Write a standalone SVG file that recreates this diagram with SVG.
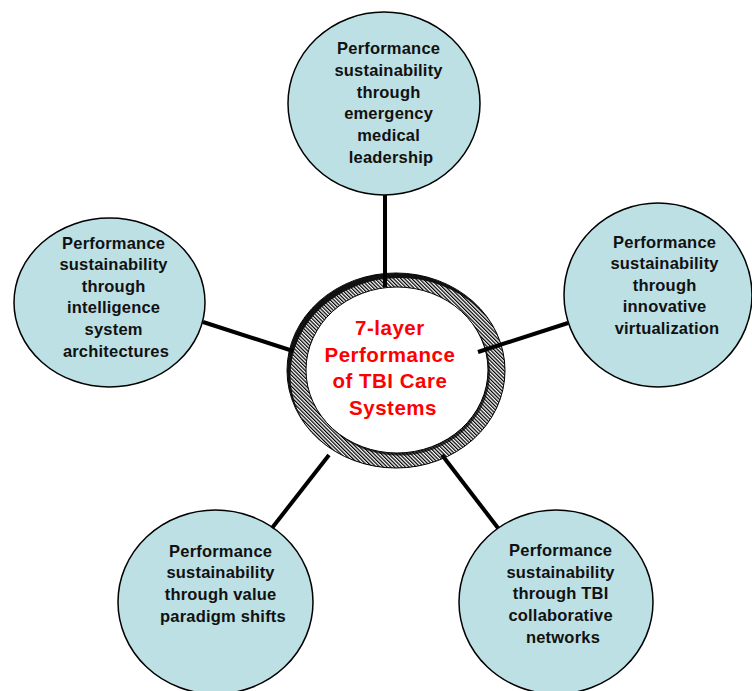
<svg xmlns="http://www.w3.org/2000/svg" width="752" height="691" viewBox="0 0 752 691">
  <defs>
    <!-- fine diagonal hatching for the hub ring -->
    <pattern id="hatch" patternUnits="userSpaceOnUse" width="2.6" height="2.6" patternTransform="rotate(-45)">
      <rect width="2.6" height="2.6" fill="#ffffff"/>
      <rect width="1.25" height="2.6" fill="#000000"/>
    </pattern>
    <clipPath id="ringOuter">
      <ellipse cx="396" cy="370.5" rx="109" ry="97.5"/>
    </clipPath>
    <style>
      .node { fill: #bce0e4; stroke: #000; stroke-width: 1.5; }
      .label { font-family: "Liberation Sans", Arial, sans-serif; font-weight: bold; font-size: 16.5px; letter-spacing: 0.2px; fill: #111; text-anchor: middle; }
      .hub { font-family: "Liberation Sans", Arial, sans-serif; font-weight: bold; font-size: 20.5px; letter-spacing: 0.5px; fill: #ff0000; text-anchor: middle; }
      .link { stroke: #000; stroke-width: 4; fill: none; }
    </style>
  </defs>

  <rect width="752" height="691" fill="#ffffff"/>

  <!-- outer nodes -->
  <g id="node-emergency">
    <ellipse class="node" cx="384" cy="103.5" rx="96" ry="91.5"/>
    <text class="label" x="391">
      <tspan x="391" y="54">Performance</tspan>
      <tspan x="391" y="75.8">sustainability</tspan>
      <tspan x="391" y="97.6">through</tspan>
      <tspan x="391" y="119.4">emergency</tspan>
      <tspan x="391" y="141.2">medical</tspan>
      <tspan x="391" y="163">leadership</tspan>
    </text>
  </g>

  <g id="node-intelligence">
    <ellipse class="node" cx="109.5" cy="302.5" rx="95.5" ry="84.5"/>
    <text class="label" x="116">
      <tspan x="116" y="248.5">Performance</tspan>
      <tspan x="116" y="270.1">sustainability</tspan>
      <tspan x="116" y="291.7">through</tspan>
      <tspan x="116" y="313.3">intelligence</tspan>
      <tspan x="116" y="334.9">system</tspan>
      <tspan x="116" y="356.5">architectures</tspan>
    </text>
  </g>

  <g id="node-virtualization">
    <ellipse class="node" cx="658" cy="295" rx="94" ry="92"/>
    <text class="label" x="667">
      <tspan x="667" y="247.5">Performance</tspan>
      <tspan x="667" y="269">sustainability</tspan>
      <tspan x="667" y="290.5">through</tspan>
      <tspan x="667" y="312">innovative</tspan>
      <tspan x="667" y="333.5">virtualization</tspan>
    </text>
  </g>

  <g id="node-value">
    <ellipse class="node" cx="215.5" cy="602" rx="97.5" ry="92"/>
    <text class="label" x="223">
      <tspan x="223" y="556.5">Performance</tspan>
      <tspan x="223" y="578.2">sustainability</tspan>
      <tspan x="223" y="599.9">through value</tspan>
      <tspan x="223" y="621.6">paradigm shifts</tspan>
    </text>
  </g>

  <g id="node-networks">
    <ellipse class="node" cx="556" cy="602" rx="97" ry="92"/>
    <text class="label" x="563">
      <tspan x="563" y="556">Performance</tspan>
      <tspan x="563" y="577.7">sustainability</tspan>
      <tspan x="563" y="599.4">through TBI</tspan>
      <tspan x="563" y="621.1">collaborative</tspan>
      <tspan x="563" y="642.8">networks</tspan>
    </text>
  </g>

  <!-- central hub: hatched ring with shaded edges -->
  <g id="node-hub">
    <g clip-path="url(#ringOuter)">
      <ellipse cx="396" cy="370.5" rx="109" ry="97.5" fill="#111"/>
      <ellipse cx="399.5" cy="375.5" rx="109" ry="97.5" fill="url(#hatch)"/>
    </g>
    <ellipse cx="399" cy="372.5" rx="91" ry="83" fill="#000" opacity="0.7"/>
    <ellipse cx="397" cy="370" rx="91" ry="83" fill="#ffffff" stroke="#000" stroke-width="1"/>
    <ellipse cx="396" cy="370.5" rx="109" ry="97.5" fill="none" stroke="#000" stroke-width="1"/>
  </g>

  <!-- spokes -->
  <g id="connectors">
    <line class="link" x1="385" y1="195" x2="385" y2="287"/>
    <line class="link" x1="203" y1="322" x2="293" y2="351"/>
    <line class="link" x1="568" y1="323" x2="478" y2="352"/>
    <line class="link" x1="272" y1="528" x2="329" y2="455"/>
    <line class="link" x1="498" y1="528" x2="442" y2="455"/>
  </g>

  <!-- hub caption above the spokes -->
  <text class="hub" x="393">
    <tspan x="393" y="335">7-layer</tspan>
    <tspan x="393" y="361.7">Performance</tspan>
    <tspan x="393" y="388.3">of TBI Care</tspan>
    <tspan x="393" y="415">Systems</tspan>
  </text>
</svg>
